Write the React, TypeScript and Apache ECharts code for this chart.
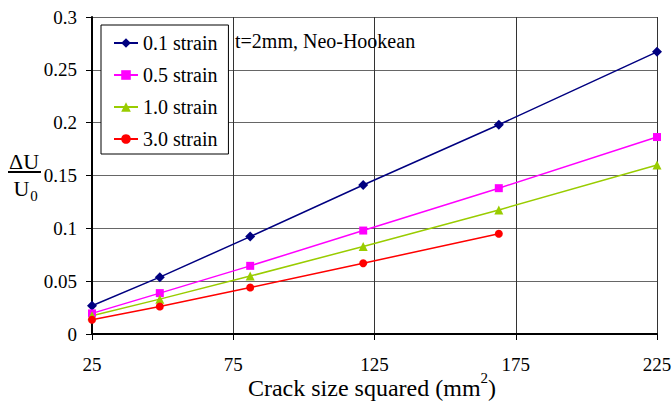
import React, { useEffect, useRef } from "react";
import * as echarts from "echarts";

const crackSizeSquared = [25, 49, 81, 121, 169, 225];
const strain01 = [0.0267, 0.0538, 0.0922, 0.141, 0.198, 0.267];
const strain05 = [0.0195, 0.0387, 0.0645, 0.0979, 0.138, 0.1864];
const strain10 = [0.0173, 0.033, 0.0548, 0.0828, 0.1174, 0.16];
const strain30 = [0.0135, 0.026, 0.044, 0.067, 0.0948];
const xTicks = [25, 75, 125, 175, 225];
const seriesNames = ["0.1 strain", "0.5 strain", "1.0 strain", "3.0 strain"];
const seriesColors = ["#000080", "#FF00FF", "#99CC00", "#FF0000"];
const seriesSymbols = ["diamond", "rect", "triangle", "circle"];
const seriesSymbolSizes = [10, 8, 9, 8];
const annotation = "t=2mm, Neo-Hookean";
const xTitle = "{n|Crack size squared (mm}{sup|2}{n|)}";

const X_ORIGIN = xTicks[0];
const FONT = "Liberation Serif";

export default function App() {
  const ref = useRef<HTMLDivElement>(null);
  useEffect(() => {
    if (!ref.current) return;
    const chart = echarts.init(ref.current, undefined, { renderer: "svg" });
    const allY = [strain01, strain05, strain10, strain30];
    const series = allY.map((ys, i) => ({
      name: seriesNames[i],
      type: "line",
      data: ys.map((y, j) => [crackSizeSquared[j] - X_ORIGIN, y]),
      symbol: seriesSymbols[i],
      symbolSize: seriesSymbolSizes[i],
      showSymbol: true,
      lineStyle: { color: seriesColors[i], width: 1.5 },
      itemStyle: { color: seriesColors[i] },
      emphasis: { disabled: true },
    }));
    const centered = {
      align: "center",
      verticalAlign: "middle",
      textAlign: "center",
      textVerticalAlign: "middle",
    };
    chart.setOption({
      animation: false,
      backgroundColor: "#ffffff",
      textStyle: { fontFamily: FONT },
      grid: {
        left: 92,
        right: 15,
        top: 17,
        bottom: 69,
        containLabel: false,
        outerBoundsMode: "none",
      },
      xAxis: {
        type: "value",
        min: 0,
        max: xTicks[xTicks.length - 1] - X_ORIGIN,
        interval: xTicks[1] - xTicks[0],
        axisLine: { show: true, lineStyle: { color: "#000", width: 2 } },
        axisTick: { show: true, inside: false, length: 6, lineStyle: { color: "#000", width: 1 } },
        axisLabel: {
          margin: 21,
          fontFamily: FONT,
          fontSize: 19,
          color: "#000",
          formatter: (v: number) => String(v + X_ORIGIN),
        },
        splitLine: { show: true, lineStyle: { color: "#333", width: 1 } },
      },
      yAxis: {
        type: "value",
        min: 0,
        max: 0.3,
        interval: 0.05,
        axisLine: { show: true, lineStyle: { color: "#000", width: 2 } },
        axisTick: { show: true, inside: false, length: 6, lineStyle: { color: "#000", width: 1 } },
        axisLabel: {
          margin: 15,
          fontFamily: FONT,
          fontSize: 19,
          color: "#000",
          formatter: (v: number) => String(Math.round(v * 100) / 100),
        },
        splitLine: { show: true, lineStyle: { color: "#666", width: 1 } },
      },
      legend: {
        orient: "vertical",
        left: 101,
        top: 25,
        padding: [8, 11, 5, 12],
        itemWidth: 24,
        itemHeight: 12,
        itemGap: 12,
        backgroundColor: "#fff",
        borderColor: "#000",
        borderWidth: 1,
        textStyle: { fontFamily: FONT, fontSize: 20, color: "#000", lineHeight: 20 },
        data: seriesNames,
        selectedMode: false,
      },
      graphic: [
        {
          type: "text",
          left: 235,
          top: 31,
          style: { text: annotation, font: `20px ${FONT}`, fill: "#000" },
          z: 10,
        },
        {
          type: "text",
          x: 372,
          y: 385,
          style: {
            text: xTitle,
            font: `24px ${FONT}`,
            fill: "#000",
            ...centered,
            rich: {
              n: { fontFamily: FONT, fontSize: 24, lineHeight: 30, verticalAlign: "bottom", fill: "#000", color: "#000" },
              sup: { fontFamily: FONT, fontSize: 15, lineHeight: 15, verticalAlign: "top", fill: "#000", color: "#000" },
            },
          },
        },
        {
          type: "text",
          x: 24,
          y: 161,
          style: { text: "ΔU", font: `22px ${FONT}`, fill: "#000", ...centered },
        },
        {
          type: "line",
          shape: { x1: 8, y1: 172, x2: 41, y2: 172 },
          style: { stroke: "#000", lineWidth: 2 },
        },
        {
          type: "text",
          x: 21.5,
          y: 188,
          style: { text: "U", font: `22px ${FONT}`, fill: "#000", ...centered },
        },
        {
          type: "text",
          x: 34,
          y: 196,
          style: { text: "0", font: `15px ${FONT}`, fill: "#000", ...centered },
        },
      ],
      series,
    });
    return () => chart.dispose();
  }, []);
  return <div ref={ref} style={{ width: 672, height: 403, position: "fixed", left: 0, top: 0 }} />;
}
